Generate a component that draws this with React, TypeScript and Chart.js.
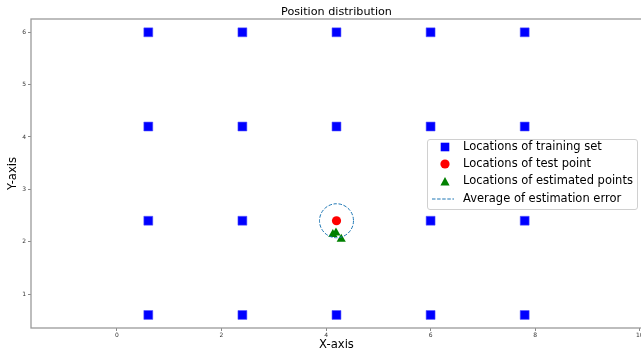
import React, { useEffect, useRef } from 'react';
import { Chart, registerables } from 'chart.js';
Chart.register(...registerables);

const titleText = 'Position distribution';
const xTitle = 'X-axis';
const yTitle = 'Y-axis';

const trainX = [0.6, 2.4, 4.2, 6.0, 7.8, 0.6, 2.4, 4.2, 6.0, 7.8, 0.6, 2.4, 6.0, 7.8, 0.6, 2.4, 4.2, 6.0, 7.8];
const trainY = [6.0, 6.0, 6.0, 6.0, 6.0, 4.2, 4.2, 4.2, 4.2, 4.2, 2.4, 2.4, 2.4, 2.4, 0.6, 0.6, 0.6, 0.6, 0.6];
const testX = [4.2];
const testY = [2.4];
const estX = [4.13, 4.19, 4.29];
const estY = [2.14, 2.17, 2.05];
const avgError = 0.325;

const xMin = -1.644;
const xMax = 10.044;
const yMin = 0.351;
const yMax = 6.254;
const xStep = 2;
const yStep = 1;

const legendLabels = [
  'Locations of training set',
  'Locations of test point',
  'Locations of estimated points',
  'Average of estimation error',
];

const FONT = '"DejaVu Sans", sans-serif';
const BLUE = '#0000ff';
const RED = '#ff0000';
const GREEN = '#008000';
const CBLUE = '#1f77b4';

const toPts = (xs: number[], ys: number[]) => xs.map((x, i) => ({ x, y: ys[i] }));

const overlay = {
  id: 'overlay',
  beforeDatasetsDraw(chart: any) {
    const { ctx, chartArea } = chart;
    ctx.save();
    ctx.strokeStyle = '#9a9a9a';
    ctx.lineWidth = 1.3;
    ctx.strokeRect(chartArea.left, chartArea.top, chartArea.right - chartArea.left, chartArea.bottom - chartArea.top);
    ctx.restore();
  },
  afterDatasetsDraw(chart: any) {
    const { ctx } = chart;
    const xs = chart.scales.x;
    const ys = chart.scales.y;
    const cx = xs.getPixelForValue(testX[0]);
    const cy = ys.getPixelForValue(testY[0]);
    const r = xs.getPixelForValue(testX[0] + avgError) - cx;
    ctx.save();
    ctx.strokeStyle = CBLUE;
    ctx.lineWidth = 1;
    ctx.setLineDash([3.5, 1.6]);
    ctx.beginPath();
    ctx.arc(cx, cy, r, 0, Math.PI * 2);
    ctx.stroke();
    ctx.restore();
  },
  afterDraw(chart: any) {
    const { ctx, chartArea } = chart;
    ctx.save();
    ctx.fillStyle = '#000';
    ctx.textAlign = 'center';
    ctx.textBaseline = 'middle';
    ctx.font = `11.2px ${FONT}`;
    const midX = (chartArea.left + chartArea.right) / 2;
    ctx.fillText(titleText, midX, 12);
    ctx.font = `11.6px ${FONT}`;
    ctx.fillText(xTitle, midX, 345);
    ctx.save();
    ctx.translate(13, (chartArea.top + chartArea.bottom) / 2);
    ctx.rotate(-Math.PI / 2);
    ctx.fillText(yTitle, 0, 0);
    ctx.restore();

    // legend
    const bx = 427, by = 139, bw = 210, bh = 70;
    ctx.fillStyle = 'rgba(255,255,255,0.85)';
    ctx.strokeStyle = '#d0d0d0';
    ctx.lineWidth = 1;
    ctx.beginPath();
    if ((ctx as any).roundRect) (ctx as any).roundRect(bx + 0.5, by + 0.5, bw, bh, 2.5);
    else ctx.rect(bx + 0.5, by + 0.5, bw, bh);
    ctx.fill();
    ctx.stroke();
    const rows = [147, 164, 181.5, 199];
    const mx = 445;
    // square
    ctx.fillStyle = BLUE;
    ctx.fillRect(mx - 4.3, rows[0] - 4.3, 8.6, 8.6);
    // circle
    ctx.fillStyle = RED;
    ctx.beginPath();
    ctx.arc(mx, rows[1], 4.6, 0, Math.PI * 2);
    ctx.fill();
    // triangle
    ctx.fillStyle = GREEN;
    ctx.beginPath();
    ctx.moveTo(mx, rows[2] - 4.6);
    ctx.lineTo(mx + 4.6, rows[2] + 4);
    ctx.lineTo(mx - 4.6, rows[2] + 4);
    ctx.closePath();
    ctx.fill();
    // dashed line
    ctx.strokeStyle = CBLUE;
    ctx.lineWidth = 1;
    ctx.setLineDash([3.5, 1.6]);
    ctx.beginPath();
    ctx.moveTo(432, rows[3]);
    ctx.lineTo(454, rows[3]);
    ctx.stroke();
    ctx.setLineDash([]);
    ctx.fillStyle = '#000';
    ctx.textAlign = 'left';
    ctx.font = `11.5px ${FONT}`;
    legendLabels.forEach((t, i) => ctx.fillText(t, 463, rows[i]));
    ctx.restore();
  },
};

export default function App() {
  const ref = useRef<HTMLCanvasElement | null>(null);
  useEffect(() => {
    if (!ref.current) return;
    const tickFont = { family: FONT, size: 6 };
    const chart = new Chart(ref.current, {
      type: 'scatter',
      data: {
        datasets: [
          {
            label: legendLabels[0],
            data: toPts(trainX, trainY),
            pointStyle: 'rect',
            pointRadius: 6.3,
            backgroundColor: BLUE,
            borderColor: 'rgba(80,80,255,0.55)',
            borderWidth: 1,
          },
          {
            label: legendLabels[1],
            data: toPts(testX, testY),
            pointStyle: 'circle',
            pointRadius: 4.6,
            backgroundColor: RED,
            borderColor: RED,
            borderWidth: 0,
          },
          {
            label: legendLabels[2],
            data: toPts(estX, estY),
            pointStyle: 'triangle',
            pointRadius: 5.3,
            backgroundColor: GREEN,
            borderColor: GREEN,
            borderWidth: 0,
          },
        ],
      },
      options: {
        animation: false,
        responsive: false,
        devicePixelRatio: 1,
        layout: { padding: { top: 19, left: 0, right: 18, bottom: 0 } },
        plugins: { legend: { display: false }, tooltip: { enabled: false }, title: { display: false } },
        scales: {
          x: {
            type: 'linear',
            min: xMin,
            max: xMax,
            border: { display: false },
            grid: { drawOnChartArea: false, drawTicks: true, tickLength: 3, color: '#888' },
            ticks: { stepSize: xStep, includeBounds: false, font: tickFont, color: '#333', padding: 1, maxRotation: 0, autoSkip: false },
            afterFit: (s: any) => { s.height = 27; },
          },
          y: {
            type: 'linear',
            min: yMin,
            max: yMax,
            border: { display: false },
            grid: { drawOnChartArea: false, drawTicks: true, tickLength: 3, color: '#888' },
            ticks: { stepSize: yStep, includeBounds: false, font: tickFont, color: '#333', padding: 2, autoSkip: false },
            afterFit: (s: any) => { s.width = 31; },
          },
        },
      },
      plugins: [overlay],
    } as any);
    return () => chart.destroy();
  }, []);
  return (
    <div style={{ position: 'absolute', left: 0, top: 0, width: 641, height: 355, overflow: 'hidden', background: '#fff' }}>
      <canvas ref={ref} width={660} height={355} style={{ display: 'block', width: 660, height: 355 }} />
    </div>
  );
}
